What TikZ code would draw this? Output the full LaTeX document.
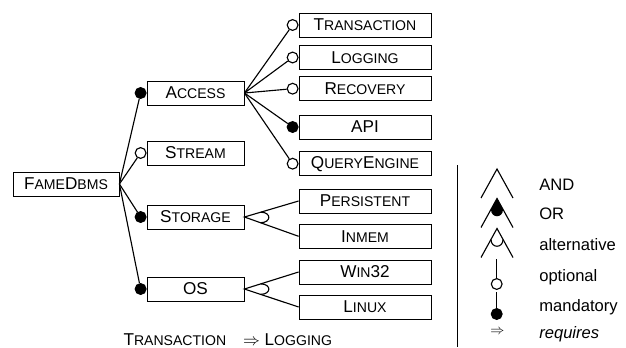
\documentclass[tikz,border=0pt]{standalone}
\usepackage{fontspec}
\setmainfont{Liberation Sans}
\usetikzlibrary{calc}

\newcommand{\capsc}[1]{{\fontsize{10}{12}\selectfont #1}}

\begin{document}
\begin{tikzpicture}[
        x=0.25mm, y=-0.25mm, % one unit = one pixel, y downwards
        feature/.style={
            draw,
            rectangle,
            minimum width=24.25mm,
            minimum height=6mm,
            inner sep=0pt,
            line width=0.6pt,
            font=\fontsize{12.2}{14}\selectfont
        },
        leaf/.style={
            feature,
            minimum width=33mm
        },
        optional/.style={
            circle,
            draw,
            fill=white,
            line width=0.8pt,
            minimum size=2.7mm,
            inner sep=0pt,
            anchor=east
        },
        mandatory/.style={
            optional,
            fill=black
        },
        link/.style={
            line width=0.8pt
        },
        legtext/.style={
            font=\fontsize{11.8}{13}\selectfont,
            anchor=base west,
            inner sep=0pt
        }
    ]
        \useasboundingbox (0,0) rectangle (626,347);

        % root and first level
        \node (fame) [feature, minimum width=26.5mm] at (66,184) {F\capsc{AME}D\capsc{BMS}};
        \node (access) [feature] at (195.5,93) {A\capsc{CCESS}};
        \node (stream) [feature] at (195.5,153) {S\capsc{TREAM}};
        \node (storage) [feature] at (195.5,217) {S\capsc{TORAGE}};
        \node (os) [feature] at (195.5,289) {OS};

        % second level
        \node (trans) [leaf] at (365,25) {T\capsc{RANSACTION}};
        \node (logging) [leaf] at (365,57.5) {L\capsc{OGGING}};
        \node (recovery) [leaf] at (365,88.7) {R\capsc{ECOVERY}};
        \node (api) [leaf] at (365,127) {API};
        \node (query) [leaf] at (365,163.7) {Q\capsc{UERY}E\capsc{NGINE}};
        \node (persistent) [leaf] at (365,201) {P\capsc{ERSISTENT}};
        \node (inmem) [leaf] at (365,236.3) {I\capsc{NMEM}};
        \node (win) [leaf] at (365,272) {W\capsc{IN}32};
        \node (linux) [leaf] at (365,307) {L\capsc{INUX}};

        % optional / mandatory markers
        \node (access-c) [mandatory] at (access.west) {};
        \node (stream-c) [optional] at (stream.west) {};
        \node (storage-c) [mandatory] at (storage.west) {};
        \node (os-c) [mandatory] at (os.west) {};
        \node (trans-c) [optional] at (trans.west) {};
        \node (logging-c) [optional] at (logging.west) {};
        \node (recovery-c) [optional] at (recovery.west) {};
        \node (api-c) [mandatory] at (api.west) {};
        \node (query-c) [optional] at (query.west) {};

        \foreach \f in {access,stream,storage,os}
            \draw[link] (fame.east) -- (\f-c);
        \foreach \f in {trans,logging,recovery,api,query}
            \draw[link] (access.east) -- (\f-c);

        % alternative groups
        \draw[link] (persistent.west) -- (storage.east) -- (inmem.west);
        \draw[link] ($(storage.east)!4.25mm!(persistent.west)$) .. controls +(11,0) and +(11,0) .. ($(storage.east)!4.25mm!(inmem.west)$);
        \draw[link] (win.west) -- (os.east) -- (linux.west);
        \draw[link] ($(os.east)!4.25mm!(win.west)$) .. controls +(11,0) and +(11,0) .. ($(os.east)!4.25mm!(linux.west)$);

        % cross-tree constraint
        \node (constraint) [legtext, font=\fontsize{12.2}{14}\selectfont] at (123.3,345.5) {T\capsc{RANSACTION}\hspace{4.2mm}$\Rightarrow$\hspace{1.2mm}L\capsc{OGGING}};

        % legend
        \coordinate (sep-top) at (457.5,165);
        \coordinate (sep-bot) at (457.5,347);
        \draw[line width=0.6pt] (sep-top) -- (sep-bot);

        \coordinate (and) at (497,169);
        \draw[link] ($(and)+(-16,29)$) -- (and) -- ($(and)+(16,29)$);
        \coordinate (or) at (497,198.5);
        \draw[link] ($(or)+(-16,29)$) -- (or) -- ($(or)+(16,29)$);
        \fill (or) -- ($(or)+(-6,11)$) .. controls +(0,9) and +(0,9) .. ($(or)+(6,11)$) -- cycle;
        \coordinate (alt) at (497,228.5);
        \draw[link] ($(alt)+(-16,29)$) -- (alt) -- ($(alt)+(16,29)$);
        \draw[link] ($(alt)+(-6,11)$) .. controls +(0,9) and +(0,9) .. ($(alt)+(6,11)$);

        \coordinate (opt-top) at (496.7,259);
        \node (opt-c) [optional, anchor=center] at (496.7,284) {};
        \draw[link] (opt-top) -- (opt-c);
        \coordinate (man-top) at (496.7,292);
        \node (man-c) [mandatory, anchor=center] at (496.7,314) {};
        \draw[link] (man-top) -- (man-c);
        \node (req-s) at (497.5,332) {\fontsize{10}{12}\selectfont$\Rightarrow$};

        \node (and-t) [legtext] at (539,190) {AND};
        \node (or-t) [legtext] at (539,219) {OR};
        \node (alt-t) [legtext] at (539,250) {alternative};
        \node (opt-t) [legtext] at (539,281.5) {optional};
        \node (man-t) [legtext] at (539,311.5) {mandatory};
        \node (req-t) [legtext] at (539,338) {\itshape requires};
    \end{tikzpicture}
\end{document}
